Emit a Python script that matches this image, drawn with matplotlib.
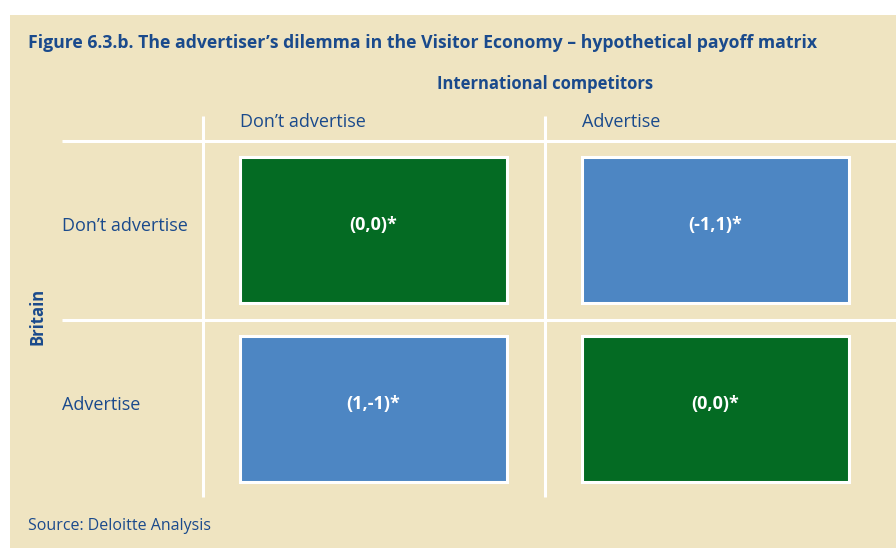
import matplotlib
matplotlib.use("Agg")
import matplotlib.pyplot as plt
from matplotlib.patches import Rectangle

plt.rcParams['font.family'] = ['Open Sans', 'DejaVu Sans']

# payoff matrix data
title = "Figure 6.3.b. The advertiser\u2019s dilemma in the Visitor Economy \u2013 hypothetical payoff matrix"
col_player = "International competitors"
row_player = "Britain"
strategies = ["Don\u2019t advertise", "Advertise"]
britain_payoff = [[0, -1], [1, 0]]
competitor_payoff = [[0, 1], [-1, 0]]
source = "Source: Deloitte Analysis"

bg = "#efe4c1"
navy = "#1a4a8c"
green = "#046b23"
blue = "#4d86c3"

fig = plt.figure(figsize=(8.96, 5.48), dpi=100)
ax = fig.add_axes([0, 0, 1, 1])
ax.set_xlim(0, 896)
ax.set_ylim(548, 0)
ax.axis("off")

# panel
ax.add_patch(Rectangle((10, 15), 886, 533, facecolor=bg, edgecolor="none"))

ax.text(28, 43, title, fontsize=12.7, fontweight="bold", color=navy, va="center", ha="left")
ax.text(545, 84, col_player, fontsize=12, fontweight="bold", color=navy, va="center", ha="center")
ax.text(38, 316, row_player, fontsize=12, fontweight="bold", color=navy, va="center", ha="center", rotation=90)
ax.text(28, 526, source, fontsize=11.5, color=navy, va="center", ha="left")

# grid lines
col_x = [203, 545]
row_y = [141, 320]
for x in col_x:
    ax.plot([x, x], [116, 497], color="white", lw=2.2, solid_capstyle="butt")
for y in row_y:
    ax.plot([62, 896], [y, y], color="white", lw=2.2, solid_capstyle="butt")

box_w, box_h = 267, 146
for j, s in enumerate(strategies):
    ax.text(col_x[j] + 37, 122, s, fontsize=13, color=navy, va="center", ha="left")
for i, s in enumerate(strategies):
    ax.text(62, row_y[i] + 85, s, fontsize=13, color=navy, va="center", ha="left")
    for j in range(len(strategies)):
        x0 = col_x[j] + 37
        y0 = row_y[i] + 16
        fc = green if britain_payoff[i][j] == competitor_payoff[i][j] else blue
        ax.add_patch(Rectangle((x0, y0), box_w, box_h, facecolor=fc,
                               edgecolor="white", lw=2.2))
        label = "({},{})*".format(britain_payoff[i][j], competitor_payoff[i][j])
        ax.text(x0 + box_w / 2, y0 + 68, label, fontsize=13, fontweight="bold",
                color="white", va="center", ha="center")

fig.savefig("out.png", dpi=100, facecolor="white")
